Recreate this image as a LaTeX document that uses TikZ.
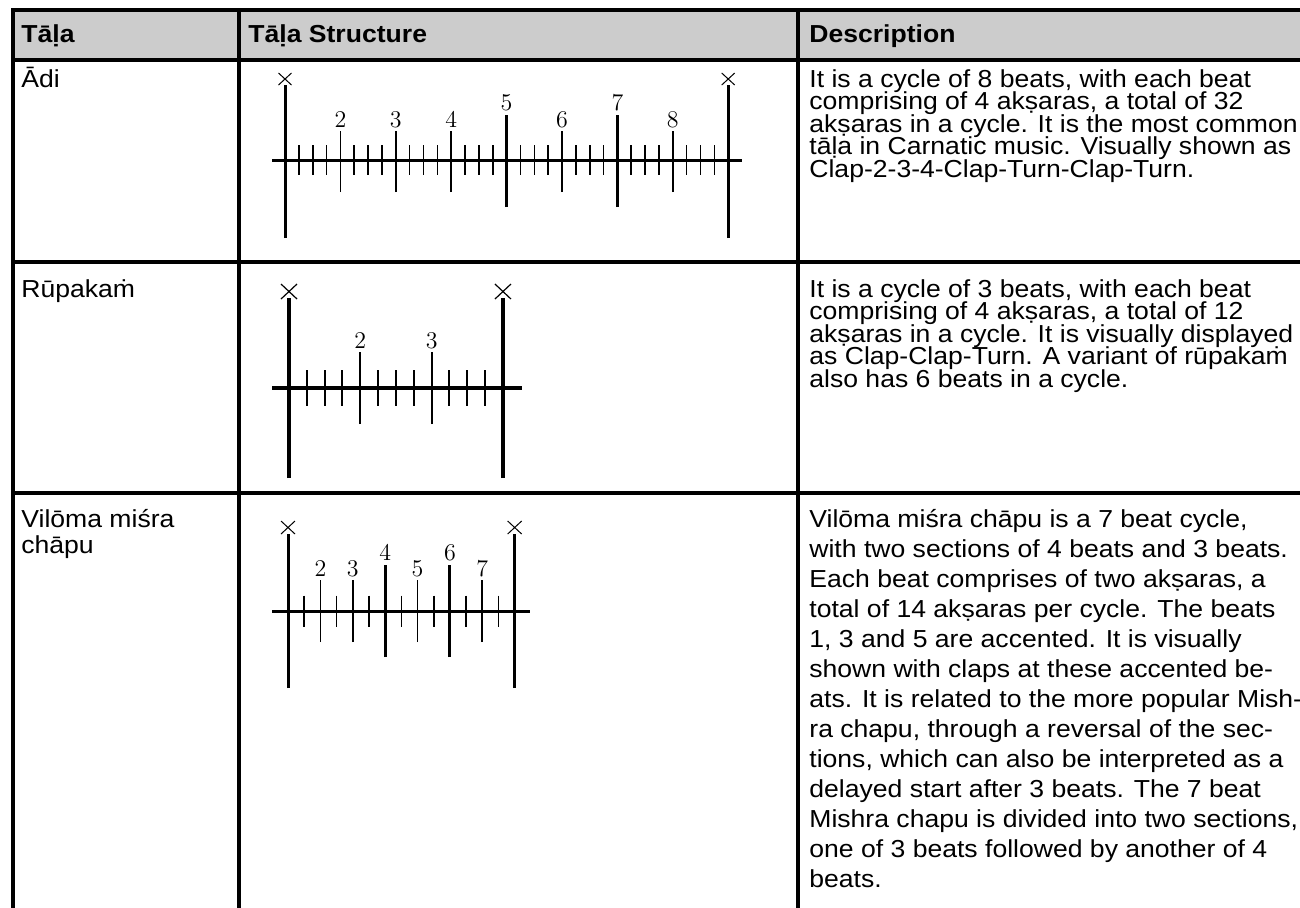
\documentclass[tikz,border=0pt]{standalone}
\usepackage{fontspec}
\setmainfont{Liberation Sans}[FakeStretch=1.08]
\definecolor{headgray}{gray}{0.8}
\tikzset{
  tabline/.style={line width=1.6pt},
  axis/.style={line width=1.5pt},
  aks/.style={line width=0.8pt},
  beat/.style={line width=0.8pt},
  heavy/.style={line width=1.5pt},
  cross/.style={line width=0.5pt},
  num/.style={above,inner sep=1.5pt,font=\fontsize{11.5}{13}\selectfont},
  % node base = baseline of the last line
  cell/.style={anchor=base west,inner sep=0pt,align=left,
    font=\fontsize{12.3}{11.25}\selectfont\lineskiplimit-100pt\relax},
  loose/.style={font=\fontsize{12.3}{15}\selectfont\lineskiplimit-100pt\relax},
  head/.style={cell,font=\fontsize{12.3}{11.25}\selectfont\bfseries}
}
\begin{document}
\begin{tikzpicture}[x=0.5pt,y=-0.5pt]
\useasboundingbox (0,0) rectangle (1300,907);
% table frame
\fill[headgray] (13,10) rectangle (1300,60);
\draw[tabline] (1300,10) -- (13,10) -- (13,910);
\draw[tabline] (239,10) -- (239,910);
\draw[tabline] (798,10) -- (798,910);
\foreach \y in {60,262,493}
  \draw[tabline] (13,\y) -- (1300,\y);
% header
\node[head] (h1) at (21,42) {Tāḷa};
\node[head] (h2) at (248,42) {Tāḷa Structure};
\node[head] (h3) at (809,42) {Description};
% first column
\node[cell] (adi) at (21,87) {Ādi};
\node[cell] (rupa) at (21,297) {Rūpakaṁ};
\node[cell,font=\fontsize{12.3}{13}\selectfont] (vilo) at (21,{527+26}) {Vilōma miśra\\chāpu};
% descriptions
\node[cell] (dadi) at (809,{87+4*22.5}) {It is a cycle of 8 beats, with each beat\\
comprising of 4 akṣaras, a total of 32\\
akṣaras in a cycle. It is the most common\\
tāḷa in Carnatic music. Visually shown as\\
Clap-2-3-4-Clap-Turn-Clap-Turn.};
\node[cell] (drupa) at (809,{297+4*22.5}) {It is a cycle of 3 beats, with each beat\\
comprising of 4 akṣaras, a total of 12\\
akṣaras in a cycle. It is visually displayed\\
as Clap-Clap-Turn. A variant of rūpakaṁ\\
also has 6 beats in a cycle.};
\node[cell,loose] (dvilo) at (809,{527+12*30}) {Vilōma miśra chāpu is a 7 beat cycle,\\
with two sections of 4 beats and 3 beats.\\
Each beat comprises of two akṣaras, a\\
total of 14 akṣaras per cycle. The beats\\
1, 3 and 5 are accented. It is visually\\
shown with claps at these accented be-\\
ats. It is related to the more popular Mish-\\
ra chapu, through a reversal of the sec-\\
tions, which can also be interpreted as a\\
delayed start after 3 beats. The 7 beat\\
Mishra chapu is divided into two sections,\\
one of 3 beats followed by another of 4\\
beats.};

% adi tala
\def\xo{285}\def\ak{13.85}\def\yo{160}
\draw[axis] (272,\yo) -- (742,\yo);
\foreach \k in {1,...,31}
  \draw[aks] ({\xo+\k*\ak},{\yo-15}) -- ({\xo+\k*\ak},{\yo+15});
\foreach \k/\n in {4/2,8/3,12/4,20/6,28/8}
  \draw[beat] ({\xo+\k*\ak},{\yo+32}) -- ({\xo+\k*\ak},{\yo-29}) node[num] (adi\n) {$\n$};
\foreach \k/\n in {16/5,24/7}
  \draw[heavy] ({\xo+\k*\ak},{\yo+47}) -- ({\xo+\k*\ak},{\yo-45}) node[num] (adi\n) {$\n$};
\foreach \k in {0,32}{
  \draw[heavy] ({\xo+\k*\ak},{\yo+78}) -- ({\xo+\k*\ak},{\yo-75});
  \draw[cross] ({\xo+\k*\ak-6.5},{\yo-87}) -- ({\xo+\k*\ak+6.5},{\yo-75})
               ({\xo+\k*\ak-6.5},{\yo-75}) -- ({\xo+\k*\ak+6.5},{\yo-87});
}

% rupakam
\def\xo{289}\def\ak{17.83}\def\yo{388}
\draw[axis,line width=1.8pt] (272,\yo) -- (522,\yo);
\foreach \k in {1,...,11}
  \draw[aks,line width=1pt] ({\xo+\k*\ak},{\yo-18}) -- ({\xo+\k*\ak},{\yo+18});
\foreach \k/\n in {4/2,8/3}
  \draw[beat,line width=1pt] ({\xo+\k*\ak},{\yo+36}) -- ({\xo+\k*\ak},{\yo-36})
    node[num,font=\fontsize{13}{15}\selectfont] (rupa\n) {$\n$};
\foreach \k in {0,12}{
  \draw[heavy,line width=1.8pt] ({\xo+\k*\ak},{\yo+90}) -- ({\xo+\k*\ak},{\yo-90});
  \draw[cross,line width=0.6pt] ({\xo+\k*\ak-8},{\yo-104}) -- ({\xo+\k*\ak+8},{\yo-89})
               ({\xo+\k*\ak-8},{\yo-89}) -- ({\xo+\k*\ak+8},{\yo-104});
}

% viloma misra chapu
\def\xo{288}\def\ak{16.19}\def\yo{611}
\draw[axis] (272,\yo) -- (530,\yo);
\foreach \k in {1,3,...,13}
  \draw[aks] ({\xo+\k*\ak},{\yo-15.5}) -- ({\xo+\k*\ak},{\yo+15.5});
\foreach \k/\n in {2/2,4/3,8/5,12/7}
  \draw[beat] ({\xo+\k*\ak},{\yo+31}) -- ({\xo+\k*\ak},{\yo-31}) node[num] (vilo\n) {$\n$};
\foreach \k/\n in {6/4,10/6}
  \draw[heavy] ({\xo+\k*\ak},{\yo+46}) -- ({\xo+\k*\ak},{\yo-46}) node[num] (vilo\n) {$\n$};
\foreach \k in {0,14}{
  \draw[heavy] ({\xo+\k*\ak},{\yo+77}) -- ({\xo+\k*\ak},{\yo-77});
  \draw[cross] ({\xo+\k*\ak-7},{\yo-90}) -- ({\xo+\k*\ak+7},{\yo-77})
               ({\xo+\k*\ak-7},{\yo-77}) -- ({\xo+\k*\ak+7},{\yo-90});
}
\end{tikzpicture}
\end{document}
